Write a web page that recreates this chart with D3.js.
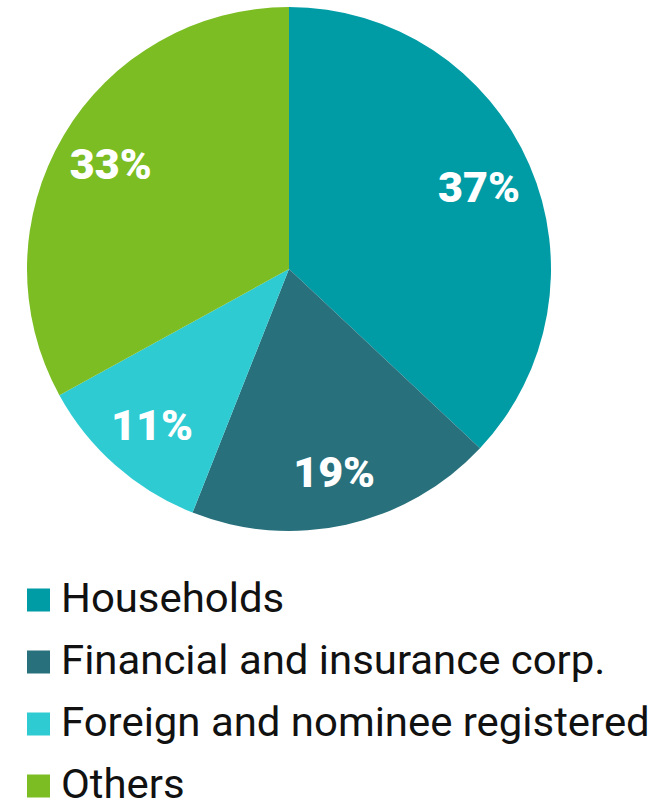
<!DOCTYPE html>
<html><head><meta charset="utf-8">
<script src="https://cdn.jsdelivr.net/npm/d3@7"></script>
<style>body{margin:0;background:#fff}</style>
</head><body>
<script>
const categories = ["Households", "Financial and insurance corp.", "Foreign and nominee registered", "Others"];
const values = [37, 19, 11, 33];
const labels = ["37%", "19%", "11%", "33%"];
const colors = ["#009ca6", "#27707c", "#2ecbd3", "#7bbd22"];

const W = 664, H = 808;
const cx = 289, cy = 269, R = 262, labelR = 207;
const svg = d3.select("body").append("svg").attr("width", W).attr("height", H);

const pie = d3.pie().sort(null).value(d => d)(values);
const arc = d3.arc().innerRadius(0).outerRadius(R);
const labelArc = d3.arc().innerRadius(labelR).outerRadius(labelR);
const g = svg.append("g").attr("transform", `translate(${cx},${cy})`);
g.selectAll("path").data(pie).join("path")
  .attr("d", arc).attr("fill", (d, i) => colors[i]);
const lbl = g.selectAll("text").data(pie).join("text")
  .attr("transform", d => `translate(${labelArc.centroid(d)})`)
  .attr("text-anchor", "middle").attr("dy", "0.36em")
  .attr("fill", "#fff").attr("font-family", "Roboto, 'DejaVu Sans', sans-serif")
  .attr("font-weight", "900").attr("font-size", 38)
  .text((d, i) => labels[i]);
const w0 = lbl.node().getComputedTextLength();
lbl.attr("font-size", 38 * 82 / w0);

const leg = svg.append("g");
const rowY = d3.scalePoint().domain(categories).range([600, 786]);
const rows = leg.selectAll("g").data(categories).join("g")
  .attr("transform", d => `translate(0,${rowY(d)})`);
rows.append("rect").attr("x", 27).attr("y", -11.5).attr("width", 23).attr("height", 23)
  .attr("fill", (d, i) => colors[i]);
const lt = rows.append("text").attr("x", 61).attr("y", 12)
  .attr("font-family", "Roboto, sans-serif")
  .attr("font-size", 40).attr("fill", "#111").text(d => d);
const wl = lt.nodes()[2].getComputedTextLength();
const sx = 589 / wl;
lt.attr("transform", `translate(61,0) scale(${sx},1) translate(-61,0)`);
</script>
</body></html>
